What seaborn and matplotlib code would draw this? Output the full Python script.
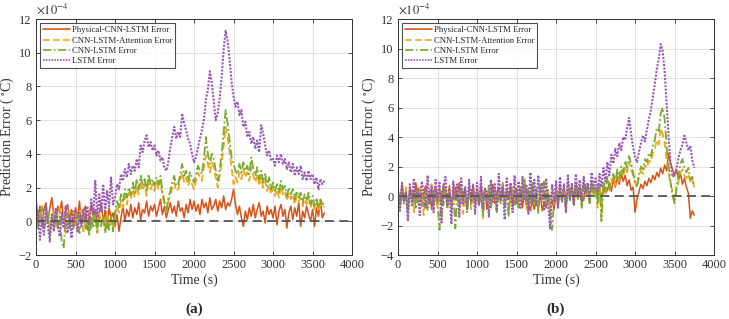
import numpy as np
import pandas as pd
import matplotlib
matplotlib.use("Agg")
import matplotlib.pyplot as plt
import seaborn as sns

# ---------------- data (units of 1e-4 °C), sampled every 25 s ----------------
t_a = list(range(0, 3651, 25))
phys_a = [1.3, 0.2, 0.9, -0.3, 0.7, 1.1, 0.0, 0.8, 1.4, 0.3, -0.2, 0.9, 0.5, 1.2, -0.1, 0.6, 1.0, 0.1, 0.7, -0.4,
          0.8, 0.2, 1.2, -0.2, 0.6, 0.9, -0.5, 0.4, 1.0, 0.1, 0.7, -0.3, 0.5, 1.1, 0.0, 0.6, -0.4, 0.8, 0.2, 0.5,
          -0.3, 0.4, -0.6, 0.2, 0.9, 0.0, 0.7, 0.3, 1.0, 0.2, 0.8, 0.4, 1.1, 0.1, 0.7, 0.5, 1.2, 0.3, 0.9, 0.6,
          1.0, 0.3, 0.8, 1.3, 0.4, 0.9, 0.2, 0.7, 1.1, 0.5, 0.9, 0.3, 1.2, 0.6, 0.8, 0.2, 1.0, 0.5, 1.3, 0.7,
          1.2, 0.6, 1.0, 0.4, 1.3, 0.8, 1.1, 0.5, 1.4, 0.7, 0.9, 1.3, 0.6, 1.2, 0.8, 1.5, 0.7, 1.1, 0.9, 1.3,
          1.9, 1.0, 0.4, 0.9, 0.2, -0.3, 0.6, 0.1, 0.8, 0.3, 1.0, 0.2, 0.7, 1.1, 0.3, 0.6, -0.1, 0.9, 0.4, 0.7,
          0.2, 0.9, -0.2, 0.6, 1.0, 0.3, 0.7, -0.4, 0.5, 0.9, 0.1, 0.8, 0.3, 1.1, -0.3, 0.6, 0.2, 0.9, 0.4, 0.0,
          0.7, -0.3, 0.8, 0.3, 1.2, 0.2, 0.5]
att_a = [0.8, -0.2, 0.5, 0.9, -0.4, 0.3, 0.6, -0.6, 0.2, 0.7, -0.3, 0.4, 0.8, -0.1, 0.5, -0.7, 0.3, 0.6, -0.2, 0.4,
         0.5, -0.5, 0.3, 0.7, -0.6, 0.2, -0.2, 0.6, -0.4, 0.4, 0.1, -0.7, 0.5, -0.1, 0.3, -0.5, 0.6, -0.3, 0.2, -0.4,
         0.4, 0.9, 0.5, 1.2, 0.8, 1.5, 1.0, 1.7, 1.3, 1.9, 1.4, 2.1, 1.6, 2.4, 1.8, 2.2, 1.5, 2.5, 1.9, 2.2,
         1.8, 2.3, 1.9, 2.4, 1.5, 1.0, 0.6, 1.2, 1.5, 2.0, 2.3, 1.8, 1.9, 2.4, 2.9, 2.3, 2.6, 2.1, 2.5, 2.2,
         1.9, 2.4, 2.9, 2.6, 2.4, 3.2, 3.9, 3.4, 2.9, 3.5, 3.2, 2.6, 2.0, 2.7, 3.4, 4.5, 5.6, 5.0, 4.1, 3.2,
         2.2, 2.6, 2.3, 2.9, 2.5, 3.1, 2.6, 2.9, 2.4, 3.2, 2.7, 2.3, 2.8, 2.1, 2.6, 2.0, 2.4, 1.8, 2.2, 1.6,
         2.0, 1.5, 1.9, 1.4, 2.1, 1.6, 1.8, 1.2, 1.7, 1.3, 1.6, 1.0, 1.5, 1.2, 1.4, 0.9, 1.3, 1.0, 1.4, 0.8,
         1.2, 0.7, 1.1, 0.6, 1.0, 0.8, 0.9]
cnn_a = [0.6, -0.4, 0.3, 0.8, -0.6, 0.1, 0.5, -0.8, 0.2, -0.3, 0.6, -0.5, 0.4, -1.2, -1.6, 0.2, 0.5, -0.4, 0.3, -0.2,
         -0.3, 0.4, -0.7, 0.2, 0.6, -0.5, 0.1, -0.9, 0.3, -0.4, 0.5, -0.6, 0.2, -0.3, 0.4, -0.7, 0.1, -0.5, 0.3, -0.6,
         0.5, 1.2, 0.8, 1.6, 1.1, 1.9, 1.4, 2.0, 1.6, 2.3, 1.7, 2.5, 1.9, 2.7, 2.1, 2.5, 1.8, 2.8, 2.2, 2.5,
         2.1, 2.6, 2.2, 2.7, 1.8, 1.2, 0.6, 1.4, 1.8, 2.3, 2.7, 2.1, 2.2, 2.8, 3.4, 2.7, 3.0, 2.4, 2.9, 2.6,
         2.3, 2.8, 3.3, 3.0, 2.8, 3.7, 5.0, 4.0, 3.4, 4.0, 3.7, 3.0, 2.4, 3.1, 4.0, 5.3, 6.6, 5.8, 4.8, 3.8,
         3.4, 3.0, 2.8, 3.4, 2.9, 3.5, 3.0, 3.3, 2.8, 3.8, 3.1, 2.7, 3.2, 2.5, 3.0, 2.3, 2.8, 2.1, 2.6, 1.9,
         2.3, 1.8, 2.2, 1.7, 2.4, 1.9, 2.1, 1.5, 2.0, 1.6, 1.9, 1.3, 1.8, 1.4, 1.7, 1.1, 1.6, 1.2, 1.7, 1.0,
         1.5, 0.9, 1.4, 0.8, 1.3, 1.0, 1.1]
lstm_a = [-0.5, 0.6, -1.1, 0.2, -0.8, 0.9, -0.3, -1.2, 0.4, -0.6, 0.8, -0.2, -0.9, 0.5, -0.4, 0.9, -0.7, 0.3, -1.0, 0.6,
          0.2, -0.6, 0.5, -0.3, 0.7, 0.1, 0.9, -0.2, 1.3, 0.4, 2.4, 0.3, 1.6, 0.6, 2.2, 0.5, 1.8, 0.9, 2.6, 1.0,
          1.4, 2.2, 1.9, 2.8, 2.4, 3.1, 2.6, 3.4, 2.8, 3.3, 3.0, 3.7, 3.2, 4.5, 4.1, 4.8, 5.1, 4.4, 4.7, 4.2,
          4.5, 3.9, 4.2, 3.6, 3.8, 3.2, 3.0, 3.5, 4.4, 5.0, 5.6, 4.9, 5.3, 5.0, 6.4, 5.8, 5.4, 4.9, 4.6, 4.0,
          3.5, 3.8, 4.4, 4.9, 5.4, 6.0, 7.2, 7.8, 8.9, 8.2, 7.1, 6.0, 6.4, 7.3, 8.6, 10.2, 11.3, 10.7, 9.6, 8.3,
          7.4, 6.8, 7.1, 6.3, 6.6, 5.6, 5.9, 5.0, 5.3, 4.6, 5.0, 4.3, 4.8, 4.1, 5.7, 5.2, 4.5, 3.9, 4.2, 3.6,
          3.7, 3.3, 3.9, 3.5, 4.0, 3.4, 3.7, 3.1, 3.5, 2.9, 3.4, 2.7, 3.2, 2.8, 3.3, 2.5, 2.9, 2.4, 3.0, 2.5,
          2.8, 2.2, 2.6, 1.9, 2.5, 2.2, 2.4]

t_b = list(range(0, 3751, 25))
phys_b = [0.4, -0.5, 0.8, -0.2, 0.3, -0.8, 0.6, 0.1, -0.4, 0.9, -0.1, 0.5, -0.7, 0.2, 0.7, -0.3, 0.4, -0.9, 0.3, 0.6,
          -0.2, 0.5, -0.6, 0.8, 0.0, -0.4, 0.7, -0.8, 0.3, 0.6, -0.3, 0.9, -0.5, 0.2, 0.5, -0.7, 0.4, -0.1, 0.8, -0.4,
          0.3, -0.6, 0.7, -0.2, 0.5, -0.9, 0.4, 0.0, 0.8, -0.5, 0.2, 0.6, -0.3, 0.9, -0.6, 0.4, -0.2, 0.7, -0.7, 0.3,
          0.5, -0.4, 0.6, -0.8, 0.2, 0.4, -0.5, -1.0, -0.3, -0.9, -0.2, -0.7, 0.1, -1.0, -0.4, -0.8, 0.0, -0.6, -0.3, -0.9,
          0.2, -0.5, 0.4, -0.3, 0.6, -0.6, 0.3, 0.0, 0.7, -0.4, 0.5, -0.2, 0.6, 0.1, -0.3, 0.7, 0.2, -0.1, 0.8, 0.3,
          0.5, 0.0, 0.6, -0.2, 0.7, 0.2, 0.4, 0.9, 0.3, 1.1, 0.6, 1.3, 0.8, 1.5, 1.0, 1.4, 0.7, 1.1, 0.4, 0.6,
          -1.1, -0.2, 0.3, 0.8, 0.5, 1.0, 0.7, 1.2, 0.9, 1.4, 1.1, 1.6, 1.3, 1.9, 1.5, 2.1, 1.7, 2.9, 2.2, 1.8,
          1.4, 1.8, 1.1, 1.5, 0.8, 1.2, 0.6, 0.2, -1.5, -1.0, -1.3]
att_b = [0.2, -0.7, 0.5, -0.3, 0.6, -0.9, 0.1, 0.4, -1.1, 0.3, -0.5, 0.7, -0.2, -1.3, 0.4, -0.6, 0.3, 0.8, -0.4, 0.1,
         -0.8, 0.4, -1.4, 0.2, 0.6, -0.5, 0.3, -1.0, 0.5, -0.3, 0.7, -0.7, 0.1, -1.2, 0.4, -0.2, 0.6, -0.9, 0.3, -0.4,
         0.5, -0.6, 0.2, -1.5, 0.4, -0.3, 0.7, -0.8, 0.2, 0.5, -1.0, 0.3, -0.4, 0.8, -0.6, 0.4, -1.2, 0.2, 0.6, -0.5,
         0.3, -0.7, 0.6, -0.2, 0.4, -0.9, 0.5, -0.4, 0.8, -0.6, 0.3, -1.0, 0.7, -0.3, 0.9, -0.5, 0.4, -1.3, 0.6, -0.2,
         0.4, -0.6, 0.7, -0.3, 0.5, -0.8, 0.8, -0.2, 0.6, -0.5, 0.9, -0.1, 0.5, -0.7, 1.0, 0.0, 0.6, -0.4, 0.9, 0.1,
         0.5, -0.8, 0.7, -1.2, 0.9, 0.2, 1.1, 0.4, 0.9, 1.3, 0.7, 1.5, 1.0, 1.7, 1.3, 2.0, 1.6, 2.3, 1.8, 1.4,
         0.9, 0.6, 1.3, 1.7, 1.5, 2.1, 1.9, 2.4, 2.3, 2.9, 3.2, 3.8, 3.5, 4.6, 4.2, 3.6, 2.4, 1.5, 0.8, 0.3,
         -0.3, 0.4, 1.0, 1.6, 1.8, 1.4, 1.2, 1.5, 0.9, 1.1, 0.6]
cnn_b = [0.1, -0.8, 0.4, -0.5, 0.2, -1.2, 0.5, -0.3, 0.3, -0.9, 0.6, -0.4, 0.2, -0.7, 0.4, -1.0, 0.1, 0.5, -0.6, 0.3,
         -0.5, -2.3, 0.3, -0.6, 0.5, -0.9, 0.2, -0.4, 0.4, -2.2, 0.1, -0.7, 0.5, -0.3, 0.3, -1.1, 0.6, -0.5, 0.2, -0.8,
         0.4, -0.6, 0.2, -1.3, 0.5, -0.4, 0.7, -0.9, 0.3, 0.1, -1.1, 0.4, -0.5, 0.8, -0.7, 0.3, -1.4, 0.5, 0.2, -0.6,
         0.4, -0.8, 0.7, -0.3, 1.2, -0.6, 0.6, -0.5, 0.9, -0.4, 0.5, -1.2, 0.8, -0.2, 1.0, -0.6, 0.4, -1.0, -2.3, -0.3,
         0.5, -0.7, 0.8, -0.4, 0.6, -0.9, 0.9, -0.3, 0.7, -0.6, 1.0, -0.2, 0.6, -0.8, 1.1, 0.1, 0.7, -0.5, 1.0, 0.2,
         0.6, -0.6, 0.8, -1.7, 1.0, 0.3, 1.3, 0.5, 1.1, 1.5, 0.9, 1.8, 1.2, 2.0, 1.6, 2.4, 1.9, 2.7, 2.2, 1.6,
         1.0, 0.7, 1.5, 2.0, 1.8, 2.5, 2.3, 2.9, 2.7, 3.4, 3.8, 4.6, 4.4, 5.6, 6.0, 5.2, 3.4, 2.0, 0.9, 0.0,
         -0.5, 0.6, 1.4, 2.2, 2.5, 1.9, 1.6, 1.9, 1.1, 1.3, 0.6]
lstm_b = [0.5, -1.0, 0.9, -0.4, 0.3, -1.7, 0.8, -0.6, 1.2, -0.2, 0.4, -1.3, 1.0, 0.2, -0.8, 1.4, -0.5, 0.7, -1.1, 1.1,
          -0.3, 0.9, -1.8, 0.6, 1.3, -0.7, 0.4, -1.9, 1.0, -0.2, 0.8, -1.4, 1.2, -0.5, 0.6, -1.0, 1.1, -0.3, 0.7, -1.2,
          0.9, -0.6, 1.3, -0.9, 0.5, 0.2, -1.4, 1.1, -0.4, 0.8, -1.0, 1.5, -0.3, 0.6, -1.6, 1.2, -0.2, 0.9, -1.1, 1.4,
          -0.5, 1.0, -0.8, 1.3, -0.2, 0.7, -1.2, 1.6, -0.4, 1.1, -0.7, 1.4, -0.3, 0.9, -1.0, 1.2, -0.6, -2.2, 0.8, -0.4,
          1.0, -0.8, 1.3, -0.3, 0.8, -1.1, 1.4, -0.2, 0.9, -0.6, 1.5, 0.0, 1.1, -0.4, 1.3, 0.2, 0.9, -0.2, 1.6, 0.5,
          1.2, 0.3, 1.5, 0.6, 1.9, 1.0, 2.3, 1.4, 2.8, 2.2, 3.2, 2.7, 3.6, 3.1, 4.0, 3.8, 4.6, 5.3, 4.2, 3.3,
          2.6, 2.3, 3.0, 3.6, 4.1, 3.7, 4.5, 5.2, 5.8, 6.7, 7.6, 8.6, 9.3, 10.3, 9.8, 8.4, 6.2, 4.0, 2.2, 1.3,
          1.4, 1.9, 2.6, 3.1, 3.5, 4.1, 3.6, 3.1, 3.4, 2.4, 1.9]

labels = ["Physical-CNN-LSTM Error", "CNN-LSTM-Attention Error", "CNN-LSTM Error", "LSTM Error"]
panel_tags = ["(a)", "(b)"]
x_ticks = [0, 500, 1000, 1500, 2000, 2500, 3000, 3500, 4000]
y_ticks_a = [-2, 0, 2, 4, 6, 8, 10, 12]
y_ticks_b = [-4, -2, 0, 2, 4, 6, 8, 10, 12]

colors = ["#D95319", "#F0A81E", "#77AC30", "#9B59B6"]
styles = ["-", (0, (4, 2)), (0, (5, 1.5, 1, 1.5)), (0, (1, 0.7))]
widths = [1.1, 1.3, 1.3, 1.5]

sns.set_theme(style="ticks")
plt.rcParams["font.family"] = ["Liberation Serif", "DejaVu Serif"]
plt.rcParams["mathtext.fontset"] = "stix"

fig = plt.figure(figsize=(7.29, 3.19), dpi=100)
axA = fig.add_axes([0.0494, 0.2006, 0.4335, 0.7398])
axB = fig.add_axes([0.5460, 0.2006, 0.4335, 0.7398])

panels = [
    (axA, t_a, [phys_a, att_a, cnn_a, lstm_a], y_ticks_a, panel_tags[0]),
    (axB, t_b, [phys_b, att_b, cnn_b, lstm_b], y_ticks_b, panel_tags[1]),
]

for ax, t, series, yt, tag in panels:
    for vals, lab, c, ls, lw in zip(series, labels, colors, styles, widths):
        df = pd.DataFrame({"t": t, "v": vals})
        sns.lineplot(data=df, x="t", y="v", ax=ax, color=c, linestyle=ls,
                     linewidth=lw, label=lab, estimator=None, sort=False)
    ax.axhline(0, color="#555555", linestyle=(0, (5, 3)), linewidth=1.3, zorder=3)
    ax.set_xlim(0, 4000)
    ax.set_ylim(yt[0], yt[-1])
    ax.set_xticks(x_ticks)
    ax.set_yticks(yt)
    ax.set_yticklabels([("\u2212" + str(abs(v))) if v < 0 else str(v) for v in yt])
    ax.grid(True, color="#dddddd", linewidth=0.6)
    ax.tick_params(direction="in", top=True, right=True, labelsize=9, colors="#333333",
                   length=3, width=0.6, pad=3)
    for s in ax.spines.values():
        s.set_color("#333333")
        s.set_linewidth(0.7)
    ax.set_xlabel("Time (s)", fontsize=10, color="#333333", labelpad=2)
    ax.set_ylabel(r"Prediction Error ( $^{\circ}$C)", fontsize=10, color="#333333", labelpad=2)
    ax.text(0.0, 1.012, r"$\times10^{-4}$", transform=ax.transAxes, fontsize=9,
            color="#333333", ha="left", va="bottom")
    leg = ax.legend(loc="upper left", fontsize=6.2, frameon=True, fancybox=False,
                    handlelength=3.1, handletextpad=0.2, borderpad=0.35, labelspacing=0.25,
                    borderaxespad=0.5)
    leg.get_frame().set_edgecolor("#222222")
    leg.get_frame().set_linewidth(0.8)
    for h in leg.get_lines():
        h.set_linewidth(1.2)
    ax.text(0.5, -0.228, tag, transform=ax.transAxes, fontsize=11, fontweight="bold",
            ha="center", va="center")

fig.savefig("out.png", dpi=100)
